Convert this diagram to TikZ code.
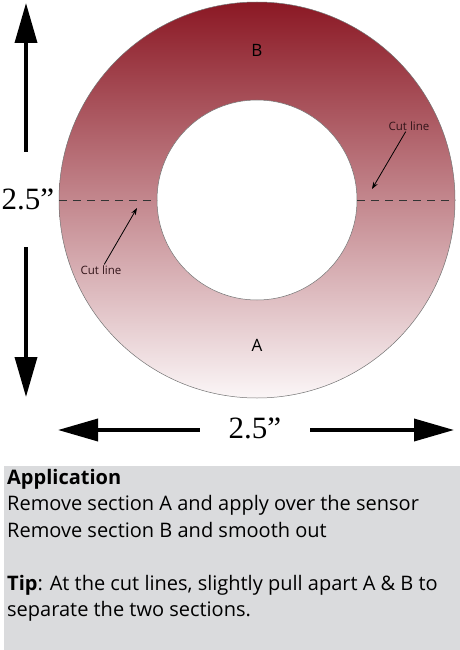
\documentclass[tikz,border=0pt]{standalone}
\usepackage{fontspec}
\setmainfont{Liberation Serif}
\setsansfont{Open Sans}
\usepackage{xcolor}
\usepackage{tikz}
\usetikzlibrary{positioning,arrows.meta}
\definecolor{ringtop}{RGB}{139,24,36}
\definecolor{ringbot}{RGB}{251,246,247}
\definecolor{notegray}{RGB}{218,219,221}
\definecolor{cutdark}{RGB}{50,20,25}

\begin{document}
\begin{tikzpicture}[
        x=1pt, y=-1pt,
        ring/.style={circle, inner sep=0pt, draw=black!55, line width=0.5pt},
        dimlabel/.style={inner sep=0pt, font=\fontsize{31}{31}\selectfont},
        dimarrow/.style={line width=3.6pt, -{Triangle[length=40pt,width=22pt]}},
        cutlabel/.style={inner sep=1pt, font=\sffamily\fontsize{11.5}{12}\selectfont, text=cutdark},
        cutarrow/.style={line width=0.8pt, -{Stealth[length=7pt,width=5pt]}},
        secname/.style={font=\sffamily\fontsize{17}{17}\selectfont}
    ]
    \useasboundingbox (0,0) rectangle (460,650);

    % ring
    \node[ring, minimum size=396pt, top color=ringtop, bottom color=ringbot] (outer) at (257,200) {};
    \node[ring, minimum size=200pt, fill=white] (hole) at (257,200) {};
    \draw[black!80, line width=0.8pt, dash pattern=on 8pt off 6pt] (outer.west) -- (hole.west);
    \draw[black!80, line width=0.8pt, dash pattern=on 8pt off 6pt] (hole.east) -- (outer.east);

    \node[secname] (secB) at (257,50) {B};
    \node[secname] (secA) at (257,345) {A};

    % cut lines
    \node[cutlabel] (cutR) at (409,126) {Cut line};
    \coordinate (cutRtip) at (372,189);
    \draw[cutarrow] (cutR) -- (cutRtip);
    \node[cutlabel] (cutL) at (101,270) {Cut line};
    \coordinate (cutLtip) at (137,208);
    \draw[cutarrow] (cutL) -- (cutLtip);

    % dimensions
    \node[dimlabel, minimum height=95pt] (vdim) at (28,199.5) {2.5”};
    \coordinate (vtop) at (26,3);
    \coordinate (vbot) at (26,397);
    \draw[dimarrow] (vdim.north -| vtop) -- (vtop);
    \draw[dimarrow] (vdim.south -| vbot) -- (vbot);

    \node[dimlabel, minimum width=110pt] (hdim) at (255,428) {2.5”};
    \coordinate (hleft) at (58,430);
    \coordinate (hright) at (454,430);
    \draw[dimarrow] (hdim.west |- hleft) -- (hleft);
    \draw[dimarrow] (hdim.east |- hright) -- (hright);

    % application note
    \fill[notegray] (4,466) rectangle (460,650);
    \node[anchor=north west, inner sep=0pt, align=left,
          font=\sffamily\fontsize{20}{26.5}\selectfont] (note) at (7,469) {%
        \textbf{Application}\\
        Remove section A and apply over the sensor\\
        Remove section B and smooth out\\[26.5pt]
        \textbf{Tip}: At the cut lines, slightly pull apart A \& B to\\
        separate the two sections.};
\end{tikzpicture}
\end{document}
